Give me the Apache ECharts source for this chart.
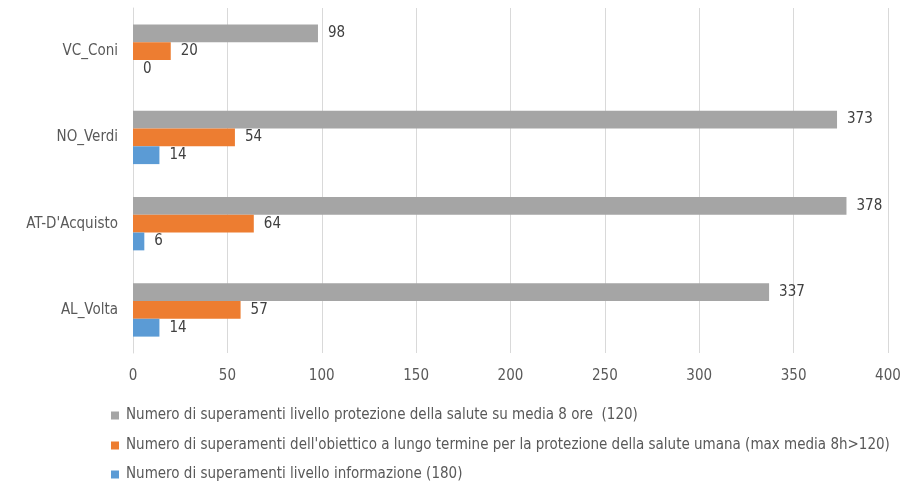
<!DOCTYPE html>
<html>
<head>
<meta charset="utf-8">
<script src="https://cdn.jsdelivr.net/npm/echarts@6/dist/echarts.min.js"></script>
<style>
  html, body { margin: 0; padding: 0; background: #fff; }
  #chart { width: 917px; height: 486px; }
</style>
</head>
<body>
<div id="chart"></div>
<script>
// Stations, listed bottom to top along the category axis
const stations = ['AL_Volta', "AT-D'Acquisto", 'NO_Verdi', 'VC_Coni'];

const nameInfo = 'Numero di superamenti livello informazione (180)';
const nameLongTerm = "Numero di superamenti dell'obiettico a lungo termine per la protezione della salute umana (max media 8h>120)";
const nameProtection = 'Numero di superamenti livello protezione della salute su media 8 ore  (120)';

const infoValues = [14, 6, 14, 0];
const longTermValues = [57, 64, 54, 20];
const protectionValues = [337, 378, 373, 98];

const xTicks = { min: 0, max: 400, interval: 50 };

const textFont = 'DejaVu Sans Condensed, DejaVu Sans, sans-serif';

function barSeries(name, values, color) {
  return {
    name: name,
    type: 'bar',
    data: values,
    barGap: '0%',
    barCategoryGap: '38%',
    itemStyle: { color: color },
    label: {
      show: true,
      position: 'right',
      distance: 10,
      color: '#404040',
      fontSize: 15,
      fontFamily: textFont
    },
    emphasis: { disabled: true }
  };
}

// one legend row per series, stacked under the plot
function legendRow(name, top) {
  return {
    data: [name],
    left: 111,
    top: top,
    padding: 0,
    itemWidth: 8,
    itemHeight: 8,
    icon: 'rect',
    selectedMode: false,
    textStyle: {
      color: '#595959',
      fontSize: 15,
      fontFamily: textFont,
      padding: [0, 0, 0, 2]
    }
  };
}

const chart = echarts.init(document.getElementById('chart'), null, { renderer: 'canvas' });
chart.setOption({
  animation: false,
  backgroundColor: '#ffffff',
  grid: { left: 133, right: 29, top: 8, bottom: 133, containLabel: false },
  xAxis: {
    type: 'value',
    min: xTicks.min,
    max: xTicks.max,
    interval: xTicks.interval,
    axisLine: { show: false },
    axisTick: { show: false },
    splitLine: { lineStyle: { color: '#d9d9d9', width: 1 } },
    axisLabel: { color: '#595959', fontSize: 15, margin: 16, fontFamily: textFont }
  },
  yAxis: {
    type: 'category',
    data: stations,
    axisLine: { show: true, lineStyle: { color: '#d9d9d9', width: 1 } },
    axisTick: { show: false },
    axisLabel: { color: '#595959', fontSize: 15, margin: 15, fontFamily: textFont }
  },
  legend: [
    legendRow(nameProtection, 408),
    legendRow(nameLongTerm, 438),
    legendRow(nameInfo, 467)
  ],
  // first series is drawn at the top of each group
  series: [
    barSeries(nameProtection, protectionValues, '#A5A5A5'),
    barSeries(nameLongTerm, longTermValues, '#ED7D31'),
    barSeries(nameInfo, infoValues, '#5B9BD5')
  ]
});
</script>
</body>
</html>
